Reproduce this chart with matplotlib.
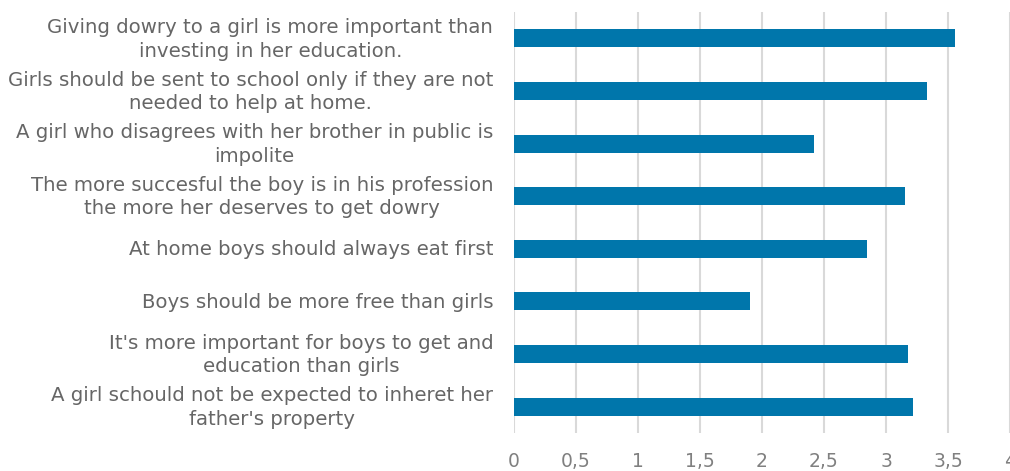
import matplotlib
matplotlib.use("Agg")
import matplotlib.pyplot as plt
from matplotlib.ticker import FuncFormatter

statements = [
    "Giving dowry to a girl is more important than\ninvesting in her education.",
    "Girls should be sent to school only if they are not\nneeded to help at home.",
    "A girl who disagrees with her brother in public is\nimpolite",
    "The more succesful the boy is in his profession\nthe more her deserves to get dowry",
    "At home boys should always eat first",
    "Boys should be more free than girls",
    "It's more important for boys to get and\neducation than girls",
    "A girl schould not be expected to inheret her\nfather's property",
]
scores = [3.56, 3.33, 2.42, 3.15, 2.85, 1.90, 3.18, 3.22]

text_color = "#666666"
bar_color = "#0076AB"
grid_color = "#D9D9D9"

plt.rcParams["font.family"] = ["DejaVu Sans"]

fig = plt.figure(figsize=(10.10, 4.71), dpi=100)
ax = fig.add_axes([514 / 1010, 1 - 433 / 471, 496 / 1010, 421 / 471])

positions = list(range(len(statements)))
ax.barh(positions, scores, height=0.34, color=bar_color, zorder=3)

ax.set_ylim(len(statements) - 0.5, -0.5)
ax.set_xlim(0, 4)
ax.set_xticks([i * 0.5 for i in range(9)])
ax.xaxis.set_major_formatter(FuncFormatter(lambda v, _: f"{v:g}".replace(".", ",")))

# category labels, right-aligned against the axis, each centred on its bar
ax.set_yticks(positions)
ax.set_yticklabels([])
for pos, text in zip(positions, statements):
    ax.annotate(text, xy=(0, pos), xycoords=("axes fraction", "data"),
                xytext=(-15, -0.7), textcoords="offset points",
                ha="right", va="center", multialignment="center",
                linespacing=1.3, fontsize=14.2, color=text_color,
                annotation_clip=False)

ax.grid(axis="x", color=grid_color, linewidth=1.5, zorder=0)
for side in ["top", "right", "bottom", "left"]:
    ax.spines[side].set_visible(False)

ax.tick_params(axis="y", length=0)
ax.tick_params(axis="x", length=0, pad=14, labelsize=13.5, labelcolor="#808080")

fig.savefig("out.png", dpi=100)
